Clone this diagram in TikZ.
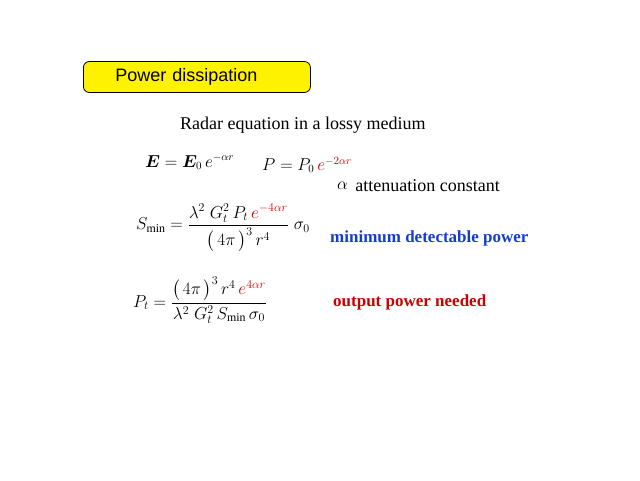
\documentclass[tikz,border=0pt]{standalone}
\usepackage{amsmath,bm}
\usepackage{fontspec}
\setmainfont{Liberation Serif}
\newfontfamily\headfont{Liberation Sans}
\usetikzlibrary{positioning}
\definecolor{eqred}{RGB}{204,0,0}
\definecolor{eqblue}{RGB}{20,60,210}
\tikzset{
    banner/.style = {draw, thick, fill=yellow, rounded corners=6pt, minimum height=31pt,
                     inner xsep=32pt, text width=163pt, align=left,
                     font=\headfont\fontsize{18}{21}\selectfont},
    eqn/.style = {inner sep=0pt, font=\fontsize{16}{19}\selectfont},
    note/.style = {inner sep=0pt, font=\bfseries\fontsize{17}{20}\selectfont},
}

\begin{document}
\begin{tikzpicture}[x=1pt, y=-1pt]
    \useasboundingbox (0,0) rectangle (640,480);

    \node (title) [banner, anchor=west] at (83,77) {Power dissipation};
    \node (radar) [eqn, font=\fontsize{18}{21}\selectfont, anchor=west] at (180,125) {Radar equation in a lossy medium};

    \node (field) [eqn, anchor=west] at (145,162) {$\bm{E} = \bm{E}_0\, e^{-\alpha r}$};
    \node (power) [eqn, anchor=west] at (262,165) {$P = P_0\, \textcolor{eqred}{e^{-2\alpha r}}$};
    \node (alpha) [eqn, font=\fontsize{18}{21}\selectfont, anchor=west] at (337,186) {$\alpha$};
    \node (atten) [eqn, font=\fontsize{18}{21}\selectfont, right = 7pt of alpha] {attenuation constant};

    \node (smin) [eqn, font=\fontsize{17}{20}\selectfont, anchor=west] at (136,228)
        {$S_{\min} = \dfrac{\lambda^2\; G_t^2\, P_t\, \textcolor{eqred}{e^{-4\alpha r}}}{\bigl(\,4\pi\,\bigr)^3\, r^4}\;\sigma_0$};
    \node (mindet) [note, text=eqblue, anchor=west] at (330,238) {minimum detectable power};

    \node (pt) [eqn, font=\fontsize{17}{20}\selectfont, anchor=west] at (133,300)
        {$P_t = \dfrac{\bigl(\,4\pi\,\bigr)^3\, r^4\, \textcolor{eqred}{e^{4\alpha r}}}{\lambda^2\; G_t^2\, S_{\min}\, \sigma_0}$};
    \node (needed) [note, text=eqred, anchor=west] at (333,302) {output power needed};
\end{tikzpicture}
\end{document}
